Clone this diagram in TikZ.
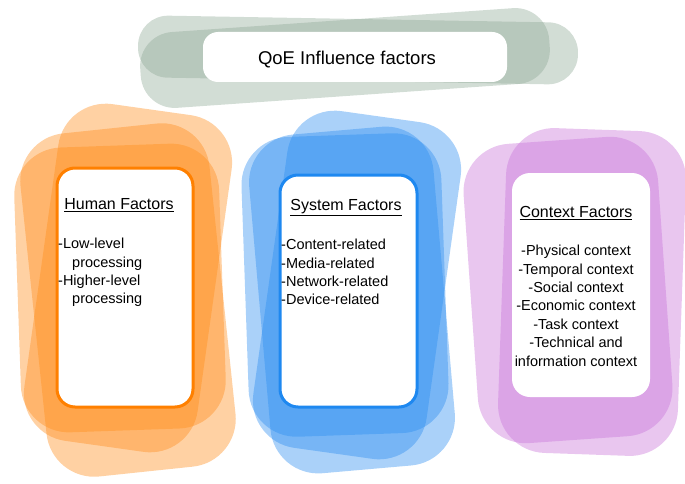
\documentclass[tikz,border=0pt]{standalone}
\usepackage{fontspec}
\setmainfont{Liberation Sans}
\definecolor{orbase}{HTML}{FF8C1A}
\definecolor{blbase}{HTML}{2A8CF0}
\definecolor{pubase}{HTML}{C770D8}
\definecolor{grbase}{HTML}{8FA996}
\definecolor{orline}{HTML}{FF8000}
\definecolor{blline}{HTML}{1E88F0}
\newcommand\qblob[7]{%
  \fill[#6, fill opacity=0.4, rotate around={#5:(#1,#2)}, rounded corners=#7] (#1-#3/2,#2-#4/2) rectangle (#1+#3/2,#2+#4/2);}
\tikzset{
  whitebox/.style={fill=white, rounded corners=18pt, inner sep=0pt},
  headtxt/.style={font=\fontsize{16}{19}\selectfont, inner sep=0pt, anchor=center},
  bodytxt/.style={font=\fontsize{14.5}{18.4}\selectfont, inner sep=0pt},
}
\begin{document}
\begin{tikzpicture}[x=1pt,y=-1pt]
\useasboundingbox (0,0) rectangle (685,484);
% green title shapes
\qblob{345}{58}{410}{76}{4}{grbase}{34pt}
\qblob{358}{50}{440}{62}{-1}{grbase}{30pt}
% orange shapes
\qblob{128}{278}{175}{340}{-8}{orbase}{48pt}
\qblob{128}{300}{190}{345}{6}{orbase}{48pt}
\qblob{120}{288}{205}{285}{2}{orbase}{48pt}
% blue shapes
\qblob{357}{285}{175}{340}{-8}{blbase}{48pt}
\qblob{352}{300}{185}{340}{5}{blbase}{48pt}
\qblob{345}{285}{200}{300}{2}{blbase}{48pt}
% purple shapes
\qblob{568}{290}{195}{300}{4}{pubase}{48pt}
\qblob{592}{292}{180}{325}{-2}{pubase}{48pt}
% white boxes
\node[whitebox, rounded corners=15pt, minimum width=304pt, minimum height=50pt] (titlebox) at (355,57) {};
\node[whitebox, draw=orline, line width=3pt, minimum width=136pt, minimum height=239pt] (humanbox) at (125,287.5) {};
\node[whitebox, draw=blline, line width=3pt, minimum width=137pt, minimum height=232pt] (systembox) at (348.5,291) {};
\node[whitebox, minimum width=138pt, minimum height=224pt] (contextbox) at (581,285) {};
% texts
\node[font=\fontsize{18.5}{22}\selectfont, inner sep=0pt] (titletxt) at (347,60) {QoE Influence factors};
\node[headtxt] (humanhead) at (119,205) {\underline{Human Factors}};
\node[headtxt] (systemhead) at (346,208) {\underline{System Factors}};
\node[headtxt] (contexthead) at (576,213) {\underline{Context Factors}};
\node[bodytxt, align=left, anchor=north west] (humanbody) at (58,238) {-Low-level\\\hspace*{14pt}processing\\-Higher-level\\\hspace*{14pt}processing};
\node[bodytxt, align=left, anchor=north west] (systembody) at (281,239) {-Content-related\\-Media-related\\-Network-related\\-Device-related};
\node[bodytxt, align=center, anchor=north] (contextbody) at (576,245) {-Physical context\\-Temporal context\\-Social context\\-Economic context\\-Task context\\-Technical and\\information context};
\end{tikzpicture}
\end{document}
